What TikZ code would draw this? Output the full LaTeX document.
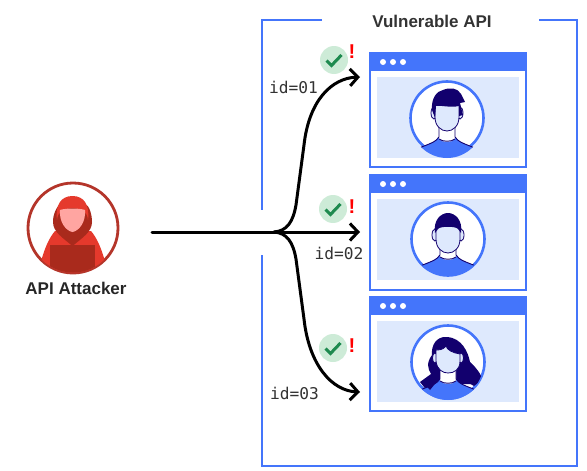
\documentclass[tikz,border=0pt]{standalone}
\usepackage{fontspec}
\setmainfont{Liberation Sans}
\newfontfamily\monof{DejaVu Sans Mono}
\usetikzlibrary{arrows.meta}
\definecolor{bl}{HTML}{4475FB}
\definecolor{lbl}{HTML}{DEE9FD}
\definecolor{navy}{HTML}{12006E}
\definecolor{okbg}{HTML}{CDEBD7}
\definecolor{okfg}{HTML}{1E8A4F}
\definecolor{ringr}{HTML}{B4352A}
\definecolor{hood}{HTML}{E5392C}
\definecolor{hoodd}{HTML}{A92A1C}
\definecolor{skin}{HTML}{FFA5A1}
\definecolor{txt}{HTML}{333333}
\tikzset{
  framel/.style={draw=bl,line width=2.7pt},
  card/.style={draw=bl,line width=2.2pt,fill=white,minimum width=156pt,inner sep=0pt,anchor=north west},
  flow/.style={draw=black,line width=3pt,line cap=round},
  flowa/.style={flow,-{Straight Barb[length=8pt,width=17pt,line width=3pt]}},
  idl/.style={font=\monof\fontsize{16.2}{16}\selectfont,text=txt,inner sep=0pt},
  head/.style={font=\bfseries\fontsize{17}{17}\selectfont,text=txt,inner sep=0pt},
  okc/.style={circle,fill=okbg,minimum size=28pt,inner sep=0pt},
  bang/.style={font=\bfseries\fontsize{20}{20}\selectfont,text=red,inner sep=0pt},
  avatar/.style={circle,draw=bl,line width=2.6pt,fill=white,minimum size=73pt,inner sep=0pt},
  lineb/.style={draw=navy,line width=.9pt},
  facel/.style={fill=lbl,draw=navy,line width=.8pt},
}
\newcommand{\hdr}[1]{%
  \fill[bl] (369,#1) rectangle (527,#1+19);
  \fill[lbl] (377,#1+25) rectangle (519,#1+106);
  \fill[white] (383,#1+10) circle (3pt);
  \fill[white] (393,#1+10) circle (3pt);
  \fill[white] (403,#1+10) circle (3pt);
}
\newcommand{\okmark}[3]{%
  \node[okc] (#3) at (#1,#2) {};
  \draw[okfg,line width=3pt] (#1-7.5,#2+.5) -- (#1-2.5,#2+5.5) -- (#1+7.5,#2-5);
}
\newcommand{\bodyclip}[2]{%
  \begin{scope}
  \clip (#1,#2) circle (36pt);
  \fill[bl] (#1-28,#2+26) .. controls (#1-18,#2+22) and (#1-11,#2+20) .. (#1-8,#2+15)
    -- (#1+8,#2+15) .. controls (#1+11,#2+20) and (#1+18,#2+22) .. (#1+28,#2+26)
    -- (#1+28,#2+40) -- (#1-28,#2+40) -- cycle;
  \fill[white] (#1-8,#2+5) -- (#1-8,#2+17) .. controls (#1-4,#2+21) and (#1+4,#2+21) .. (#1+8,#2+17) -- (#1+8,#2+5) -- cycle;
  \draw[lineb] (#1-8,#2+5) -- (#1-8,#2+15) .. controls (#1-11,#2+20) and (#1-18,#2+22) .. (#1-28,#2+26);
  \draw[lineb] (#1+8,#2+5) -- (#1+8,#2+15) .. controls (#1+11,#2+20) and (#1+18,#2+22) .. (#1+28,#2+26);
  \draw[lineb] (#1-8,#2+17) .. controls (#1-4,#2+20) and (#1+4,#2+20) .. (#1+8,#2+17);
  \end{scope}
}
\newcommand{\facepath}[2]{%
  (#1-12,#2-14) -- (#1-12,#2-1) .. controls (#1-12,#2+8) and (#1-6,#2+13) .. (#1,#2+13)
  .. controls (#1+6,#2+13) and (#1+12,#2+8) .. (#1+12,#2-1) -- (#1+12,#2-14) .. controls (#1+6,#2-18) and (#1-6,#2-18) .. (#1-12,#2-14) -- cycle
}
\begin{document}
\begin{tikzpicture}[x=1pt,y=-1pt]
\useasboundingbox (0,0) rectangle (587,471);
% attacker
\node[circle,draw=ringr,line width=2.8pt,minimum size=90pt,inner sep=0pt,fill=white] (atk) at (73,228) {};
\begin{scope}
\clip (73,228) circle (44.5pt);
\fill[hood] (42,258) .. controls (45,248) and (49,238) .. (55,231) -- (91,231) .. controls (97,238) and (101,248) .. (104,258) -- (106,275) -- (40,275) -- cycle;
\fill[hoodd] (53,222) .. controls (53,232) and (63,238) .. (72.5,246) .. controls (82,238) and (92,232) .. (92,222) .. controls (92,214) and (89,205) .. (85,204) -- (60,204) .. controls (56,208) and (53,214) .. (53,222) -- cycle;
\fill[hood] (57,220) .. controls (55,205) and (61,196) .. (72.5,196) .. controls (84,196) and (90,205) .. (88,220) .. controls (87,212) and (84,209) .. (72.5,208) .. controls (61,209) and (58,212) .. (57,220) -- cycle;
\fill[hoodd] (50,245) -- (95,245) -- (95,274) -- (50,274) -- cycle;
\fill[skin] (60,210) .. controls (66,208) and (79,208) .. (85,210) .. controls (86,222) and (79,231) .. (72.5,232) .. controls (66,231) and (59,222) .. (60,210) -- cycle;
\end{scope}
\node[head,text=black!85] (atklabel) at (76,288) {API Attacker};
% frame
\coordinate (f1) at (322,20); \coordinate (f2) at (262,20); \coordinate (f3) at (262,210);
\coordinate (f4) at (262,255); \coordinate (f5) at (262,466); \coordinate (f6) at (577,466);
\coordinate (f7) at (577,20); \coordinate (f8) at (539,20);
\draw[framel] (f1) -- (f2) -- (f3);
\draw[framel] (f4) -- (f5) -- (f6) -- (f7) -- (f8);
\node[head] (vapi) at (432,21) {Vulnerable API};
% cards
\node[card,minimum height=114pt] (c1) at (369,52) {};
\node[card,minimum height=115pt] (c2) at (369,174) {};
\node[card,minimum height=114pt] (c3) at (369,296) {};
\hdr{52}
\hdr{174}
\hdr{296}
\node[avatar] (p1) at (447,118) {};
\node[avatar] (p2) at (448,239) {};
\node[avatar] (p3) at (448,362) {};
% person 1
\bodyclip{447}{122}
\fill[facel] (434,113) ellipse (3 and 6);
\fill[facel] (460,113) ellipse (3 and 6);
\fill[facel] \facepath{447}{118};
\fill[navy] (432,110) .. controls (431,98) and (437,91) .. (443,90) .. controls (450,87) and (458,88) .. (461,94) -- (465,102) -- (460,103) -- (463,115) -- (459,116) -- (459,106) .. controls (450,108) and (441,105) .. (436,106) -- (435,118) -- cycle;
% person 2
\bodyclip{448}{240}
\fill[facel] (435,235) ellipse (3 and 6);
\fill[facel] (461,235) ellipse (3 and 6);
\fill[facel] \facepath{448}{240};
\fill[navy] (435,233) .. controls (433,220) and (441,213) .. (448,213) .. controls (455,213) and (463,220) .. (461,233) -- (458,229) .. controls (456,226) and (440,226) .. (438,229) -- cycle;
% person 3
\begin{scope}
\clip (448,362) circle (36pt);
\fill[navy] (447,337) .. controls (436,336) and (431,346) .. (432,355) .. controls (426,363) and (428,369) .. (431,374) -- (420,382) -- (428,392) -- (444,384) -- (470,384) -- (480,384) .. controls (486,378) and (476,368) .. (470,362) .. controls (468,352) and (462,338) .. (447,337) -- cycle;
\end{scope}
\bodyclip{448}{364}
\fill[navy] (423,383) -- (436,375) -- (438,380) -- (430,390) -- cycle;
\fill[navy] (456,368) -- (470,362) .. controls (476,368) and (486,378) .. (474,386) -- (460,378) -- cycle;
\fill[facel] (435,358) ellipse (2.5 and 5);
\fill[facel] (461,358) ellipse (2.5 and 5);
\fill[facel] (436,350) -- (436,361) .. controls (437,370) and (443,373) .. (448,373) .. controls (454,373) and (460,370) .. (460,361) -- (460,354) .. controls (453,353) and (447,350) .. (446,346) .. controls (443,350) and (439,350) .. (436,350) -- cycle;
% connectors
\coordinate (start) at (152,232);
\coordinate (j) at (274,232);
\coordinate (e1) at (360,77);
\coordinate (e2) at (360,232);
\coordinate (e3) at (360,392);
\draw[flowa] (start) -- (e2);
\draw[flowa] (j) .. controls (287,231) and (293,222) .. (296,205) -- (304,145) .. controls (309,100) and (332,78) .. (e1);
\draw[flowa] (j) .. controls (287,233) and (293,242) .. (296,259) -- (304,319) .. controls (309,365) and (332,391) .. (e3);
% labels
\node[idl] (id1) at (293.5,87) {id=01};
\node[idl] (id2) at (339,253) {id=02};
\node[idl] (id3) at (294.5,393) {id=03};
\okmark{334}{60}{k1}
\okmark{333}{209}{k2}
\okmark{333}{348}{k3}
\node[bang] (b1) at (352,52) {!};
\node[bang] (b2) at (352,207) {!};
\node[bang] (b3) at (352,346) {!};
\end{tikzpicture}
\end{document}
